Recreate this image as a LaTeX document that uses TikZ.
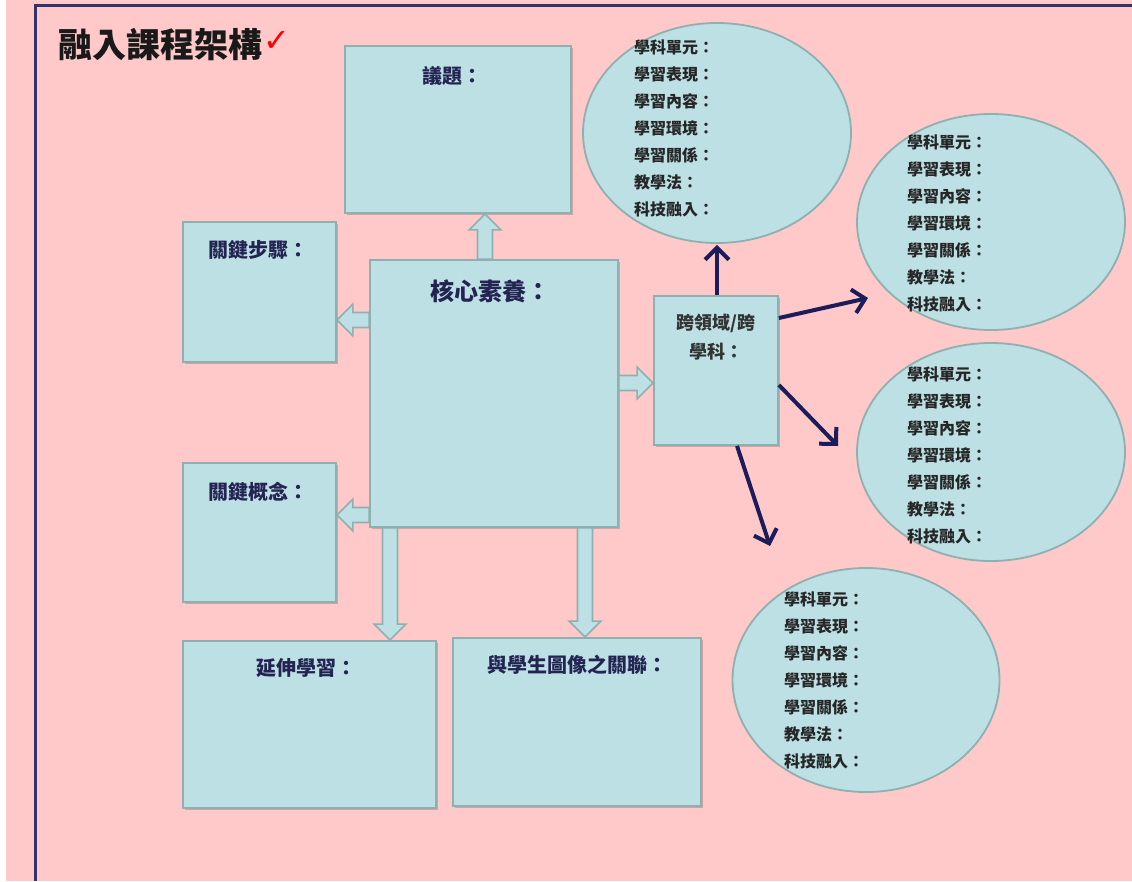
\documentclass[tikz,border=0pt]{standalone}
\usepackage{fontspec}
\setmainfont{Noto Sans CJK TC}
\newfontfamily\symfont{DejaVu Sans}
\usetikzlibrary{arrows.meta,shapes.geometric,calc,shadows}
\definecolor{bgpink}{HTML}{FFC9C9}
\definecolor{boxfill}{HTML}{BCE0E4}
\definecolor{boxline}{HTML}{8FB0B0}
\definecolor{navy}{HTML}{1C1C5A}
\definecolor{labelc}{HTML}{232452}
\tikzset{
  box/.style={draw=boxline, line width=1.8pt, fill=boxfill, inner sep=0pt,
    drop shadow={shadow xshift=1.5pt, shadow yshift=-1.5pt, fill=black, opacity=0.18}},
  oval/.style={ellipse, draw=boxline, line width=1.8pt, fill=boxfill, inner sep=0pt,
    minimum width=268pt, minimum height=220pt},
  blabel/.style={text=labelc, font=\bfseries\fontsize{20}{24}\selectfont, inner sep=0pt},
  etext/.style={text=black!85, font=\bfseries\fontsize{16}{27}\selectfont, align=left, inner sep=0pt},
  barrowstyle/.style={draw=boxline, line width=1.6pt, fill=boxfill, line join=miter},
  navyarrow/.style={draw=navy, line width=4pt, -{Straight Barb[length=12pt,width=24pt,line width=4pt]}}
}
\newcommand\blockarrow[2]{%
  \filldraw[barrowstyle] let \p1=#1, \p2=#2,
    \n1={veclen(\x2-\x1,\y2-\y1)}, \n2={(\x2-\x1)/\n1}, \n3={(\y2-\y1)/\n1} in
    ({\x1-7.5*\n3},{\y1+7.5*\n2}) --
    ({\x2-16*\n2-7.5*\n3},{\y2-16*\n3+7.5*\n2}) --
    ({\x2-16*\n2-16*\n3},{\y2-16*\n3+16*\n2}) --
    (\x2,\y2) --
    ({\x2-16*\n2+16*\n3},{\y2-16*\n3-16*\n2}) --
    ({\x2-16*\n2+7.5*\n3},{\y2-16*\n3-7.5*\n2}) --
    ({\x1+7.5*\n3},{\y1-7.5*\n2}) -- cycle;}
\begin{document}
\begin{tikzpicture}[x=1pt,y=-1pt]
\useasboundingbox (0,0) rectangle (1132,881);
\fill[white] (0,0) rectangle (1132,881);
\fill[bgpink] (6,0) rectangle (1132,881);
\draw[navy!90, line width=3pt] (35,881) -- (35,5) -- (1132,5);

% title
\node[anchor=west, inner sep=0pt, font=\bfseries\fontsize{34}{38}\selectfont, text=black!90] (title) at (58,45) {融入課程架構};
\node[anchor=west, inner sep=0pt, font=\symfont\bfseries\fontsize{32}{34}\selectfont, text=red] (check) at ([xshift=1pt,yshift=4pt]title.east) {✓};

% boxes
\node[box, minimum width=226pt, minimum height=167pt] (issue) at (458,129.5) {};
\node[box, minimum width=153pt, minimum height=140pt] (steps) at (259.5,292) {};
\node[box, minimum width=248pt, minimum height=267pt] (core) at (494,393.5) {};
\node[box, minimum width=153pt, minimum height=139pt] (concept) at (259.5,532.5) {};
\node[box, minimum width=253pt, minimum height=167pt] (ext) at (309.5,724.5) {};
\node[box, minimum width=248pt, minimum height=168pt] (image) at (577,722) {};
\node[box, minimum width=124pt, minimum height=149pt] (cross) at (716,370.5) {};

% labels
\node[blabel] (issueL) at (452,76) {議題：};
\node[blabel] (stepsL) at (258,250) {關鍵步驟：};
\node[blabel, font=\bfseries\fontsize{24}{28}\selectfont] (coreL) at (490,291) {核心素養：};
\node[blabel] (conceptL) at (258,492) {關鍵概念：};
\node[blabel] (extL) at (306,668) {延伸學習：};
\node[blabel] (imageL) at (577,665) {與學生圖像之關聯：};
\node[blabel, text=black!80, font=\bfseries\fontsize{18}{29}\selectfont, align=center] (crossL) at (716,337) {跨領域/跨\\學科：};

% ellipses
\node[oval] (e1) at (717,133) {};
\node[oval, minimum height=216pt] (e2) at (991,222) {};
\node[oval, minimum height=218pt] (e3) at (991,452) {};
\node[oval, minimum width=267pt, minimum height=224pt] (e4) at (866,680) {};
\node[etext, anchor=north west] (e1t) at (634,40) {學科單元：\\學習表現：\\學習內容：\\學習環境：\\學習關係：\\教學法：\\科技融入：};
\node[etext, anchor=north west] (e2t) at (907,135) {學科單元：\\學習表現：\\學習內容：\\學習環境：\\學習關係：\\教學法：\\科技融入：};
\node[etext, anchor=north west] (e3t) at (907,367) {學科單元：\\學習表現：\\學習內容：\\學習環境：\\學習關係：\\教學法：\\科技融入：};
\node[etext, anchor=north west] (e4t) at (784,592) {學科單元：\\學習表現：\\學習內容：\\學習環境：\\學習關係：\\教學法：\\科技融入：};

% block arrows from core
\coordinate (ua) at (485,0);
\coordinate (ls) at (0,320);
\coordinate (lc) at (0,515);
\coordinate (de) at (390,0);
\coordinate (di) at (585,0);
\coordinate (rc) at (0,383);
\blockarrow{(core.north -| ua)}{(issue.south -| ua)}
\blockarrow{(core.west |- ls)}{(steps.east |- ls)}
\blockarrow{(core.west |- lc)}{(concept.east |- lc)}
\blockarrow{(core.south -| de)}{(ext.north -| de)}
\blockarrow{(core.south -| di)}{(image.north -| di)}
\blockarrow{(core.east |- rc)}{(cross.west |- rc)}

% navy arrows from cross box
\coordinate (s2) at (0,318);
\coordinate (t2) at (868,298);
\coordinate (s3) at (0,385);
\coordinate (t3) at (838,446);
\coordinate (s4) at (737,0);
\coordinate (t4) at (770,546);
\draw[navyarrow] (cross.north -| e1.south) -- ([yshift=-1pt]e1.south);
\draw[navyarrow] (cross.east |- s2) -- (t2);
\draw[navyarrow] (cross.east |- s3) -- (t3);
\draw[navyarrow] (cross.south -| s4) -- (t4);
\end{tikzpicture}
\end{document}
